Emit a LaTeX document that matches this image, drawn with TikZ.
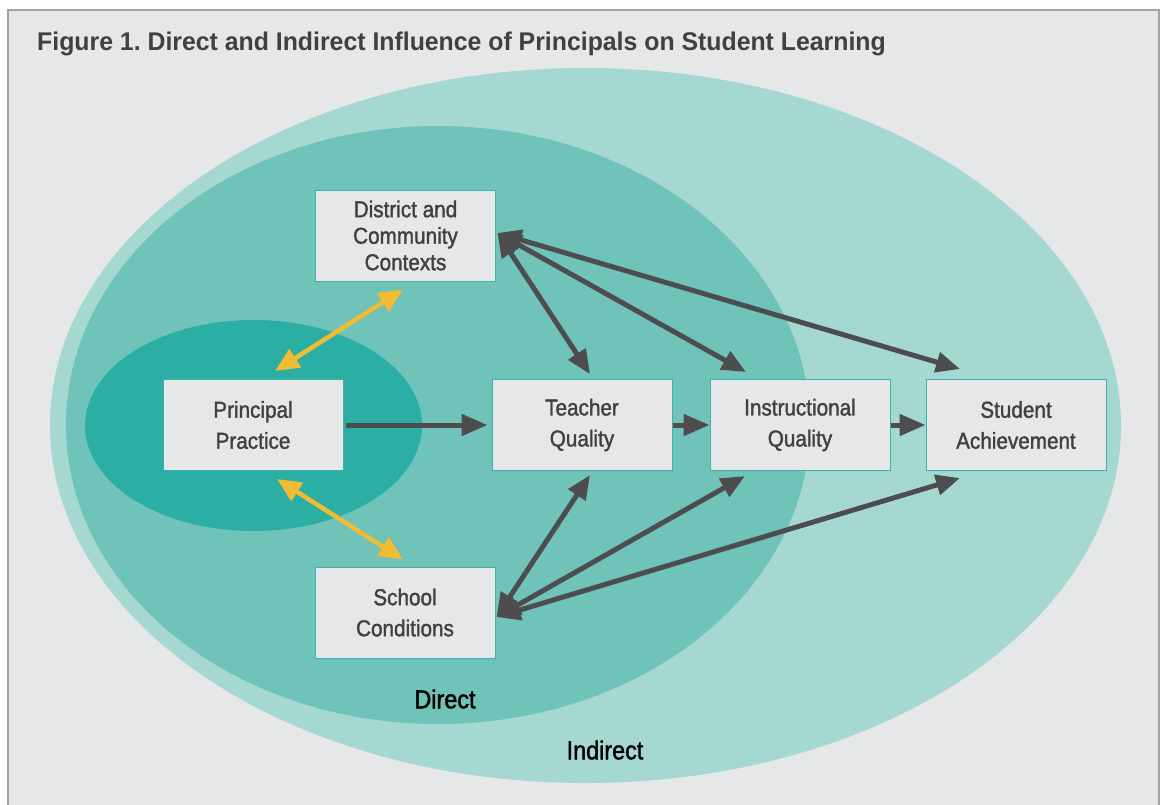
\documentclass[tikz,border=0pt]{standalone}
\usepackage{fontspec}
\setmainfont{Liberation Sans}[FakeStretch=0.9, FakeBold=1.5]
\newfontfamily\titlefont{Liberation Sans}[FakeStretch=0.97]
\usetikzlibrary{arrows.meta,positioning}
\frenchspacing

\definecolor{pagebg}{HTML}{E6E7E8}
\definecolor{frameedge}{HTML}{A3A3A3}
\definecolor{indirectbg}{HTML}{A5D8D1}
\definecolor{directbg}{HTML}{70C3B9}
\definecolor{practicebg}{HTML}{2BAFA5}
\definecolor{boxedge}{HTML}{3BB3A8}
\definecolor{labelfg}{HTML}{404042}
\definecolor{arrowfg}{HTML}{4D4D4F}
\definecolor{linkyellow}{HTML}{F1BC31}

\tikzset{
    factor/.style={draw=boxedge, line width=1pt, fill=pagebg, text=labelfg, minimum width=180pt, minimum height=91pt, inner sep=0pt, align=center, font=\fontsize{23}{31}\selectfont},
    influence/.style={draw=arrowfg, line width=5pt, -{Triangle[length=26pt,width=21pt]}},
    twoway/.style={draw=arrowfg, line width=5pt, {Triangle[length=24pt,width=20pt]}-{Triangle[length=24pt,width=20pt]}},
    support/.style={draw=linkyellow, line width=4.5pt, {Triangle[length=24pt,width=21pt]}-{Triangle[length=24pt,width=21pt]}},
    zone/.style={inner sep=0pt, font=\fontsize{26}{30}\selectfont}
}

\begin{document}
\begin{tikzpicture}[x=1pt, y=-1pt]
        \useasboundingbox (0,0) rectangle (1161,804);
        \fill[white] (0,0) rectangle (1161,804);
        \draw[fill=pagebg, draw=frameedge, line width=1.5pt] (8,10) rectangle (1159,815);

        \node (title) [anchor=base west, inner sep=0pt, text=labelfg, font=\titlefont\fontsize{25.6}{30}\selectfont\bfseries] at (37,50) {Figure 1. Direct and Indirect Influence of Principals on Student Learning};

        \fill[indirectbg] (585.5,425.5) ellipse [x radius=535.5, y radius=357.5];
        \fill[directbg] (438,425) ellipse [x radius=372, y radius=299];
        \fill[practicebg] (253.5,425.5) ellipse [x radius=168.5, y radius=105.5];

        \node (prin) [factor] at (253,425) {Principal\\Practice};
        \node (teach) [factor, right=148pt of prin] {Teacher\\Quality};
        \node (instr) [factor, right=37pt of teach] {Instructional\\Quality};
        \node (stud) [factor, right=35pt of instr] {Student\\Achievement};
        \node (dist) [factor, font=\fontsize{23}{26.5}\selectfont] at (405.5,235.5) {District and\\Community\\Contexts};
        \node (school) [factor] at (405,612.5) {School\\Conditions};

        \node (direct) [zone] at (445,699) {Direct};
        \node (indirect) [zone] at (605,750) {Indirect};

        \draw[influence] ([xshift=2pt]prin.east) -- ([xshift=-4pt]teach.west);
        \draw[influence] (teach.east) -- (instr.west);
        \draw[influence] (instr.east) -- (stud.west);

        \draw[twoway] ([xshift=1.5pt,yshift=2.5pt]dist.east) -- ([xshift=8pt,yshift=5pt]teach.north);
        \draw[twoway] ([xshift=1.5pt,yshift=2.5pt]dist.east) -- ([xshift=-54pt,yshift=7pt]instr.north);
        \draw[twoway] ([xshift=1.5pt,yshift=2.5pt]dist.east) -- ([xshift=-56pt,yshift=10pt]stud.north);
        \draw[twoway] ([xshift=1pt,yshift=-4.5pt]school.east) -- ([xshift=8pt,yshift=-4pt]teach.south);
        \draw[twoway] ([xshift=1pt,yshift=-4.5pt]school.east) -- ([xshift=-55pt,yshift=-5pt]instr.south);
        \draw[twoway] ([xshift=1pt,yshift=-4.5pt]school.east) -- ([xshift=-56pt,yshift=-7pt]stud.south);

        \draw[support] ([xshift=-2.5pt,yshift=-8pt]dist.south) -- ([xshift=22pt,yshift=8pt]prin.north);
        \draw[support] ([xshift=24pt,yshift=-8pt]prin.south) -- ([xshift=-2pt,yshift=7pt]school.north);
    \end{tikzpicture}
\end{document}
